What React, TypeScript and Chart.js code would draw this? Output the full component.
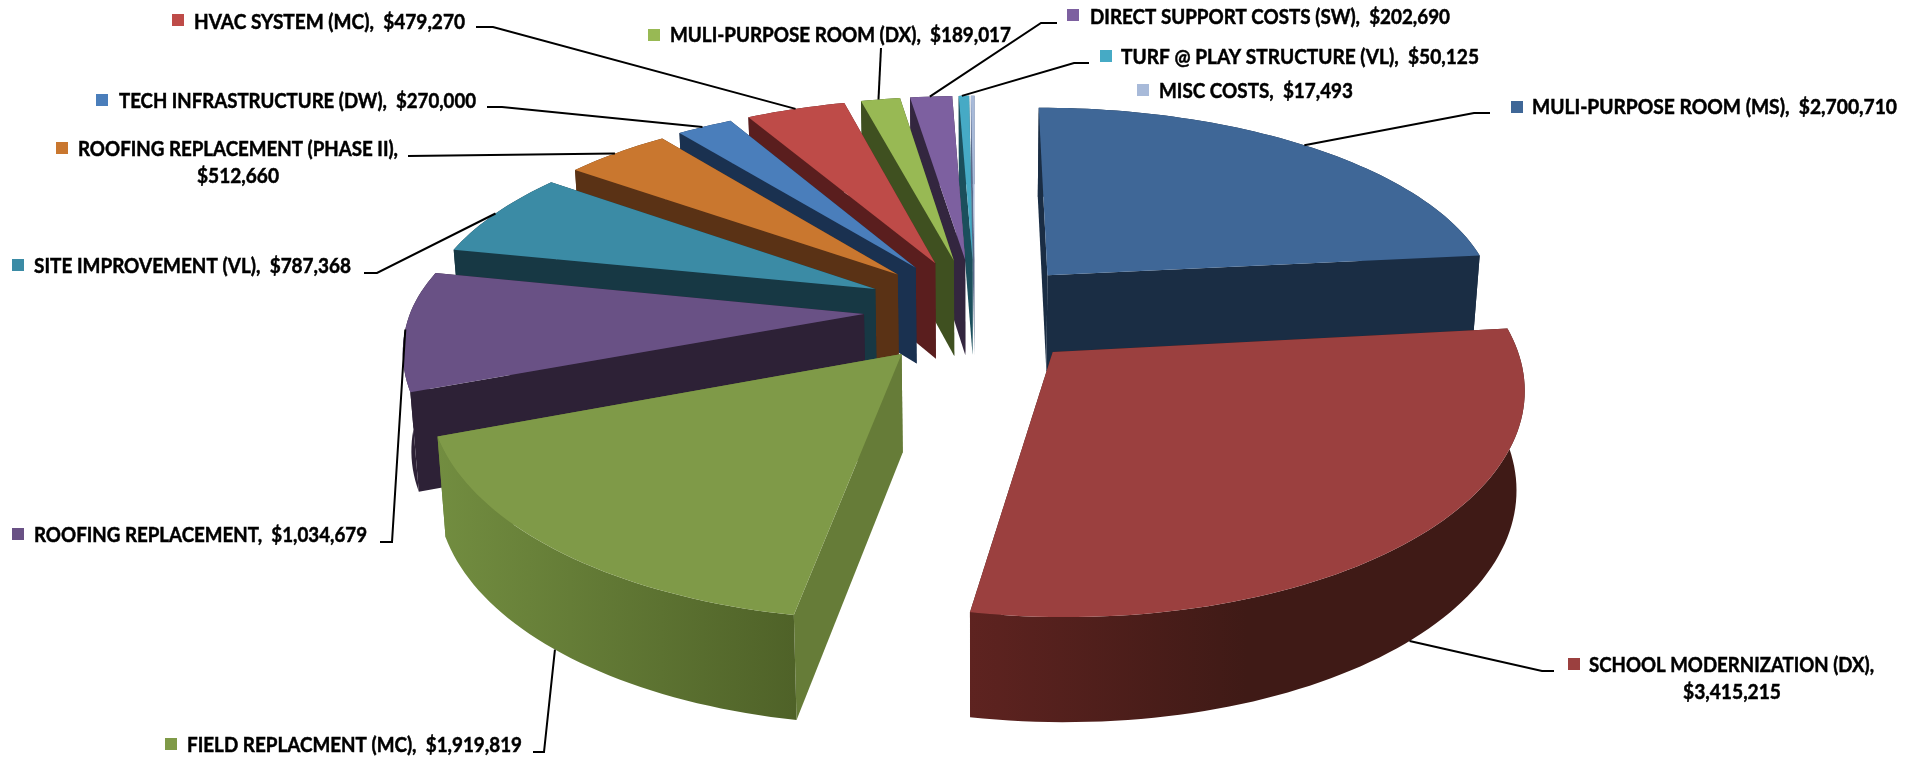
import React, { useEffect, useRef } from "react";
import { Chart, registerables, ArcElement, DoughnutController } from "chart.js";

// ---------- data ----------
const CATEGORIES = [
  "MULI-PURPOSE ROOM (MS)",
  "SCHOOL MODERNIZATION (DX)",
  "FIELD REPLACMENT (MC)",
  "ROOFING REPLACEMENT",
  "SITE IMPROVEMENT (VL)",
  "ROOFING REPLACEMENT (PHASE II)",
  "TECH INFRASTRUCTURE (DW)",
  "HVAC SYSTEM (MC)",
  "MULI-PURPOSE ROOM (DX)",
  "DIRECT SUPPORT COSTS (SW)",
  "TURF @ PLAY STRUCTURE (VL)",
  "MISC COSTS",
];
const VALUES = [2700710, 3415215, 1919819, 1034679, 787368, 512660, 270000, 479270, 189017, 202690, 50125, 17493];

// ---------- styles ----------
const TOP_COLORS = ["#3f6797", "#9b403f", "#7f9a48", "#695185", "#3b8ba5", "#c9772f", "#4a7ebb", "#be4b48", "#98b954", "#7d60a0", "#46aac5", "#a8bad9"];
const FACE_COLORS = ["#1a2d44", "#421a17", "#667c38", "#2d2136", "#173844", "#5a3215", "#1a3150", "#5a1e1e", "#3f5020", "#33263f", "#1b4f5c", "#5a6a8a"];
const WALL_LEFT = ["#1a2d44", "#5e2320", "#728d40", "#2d2136", "#173844", "#5a3215", "#1a3150", "#5a1e1e", "#3f5020", "#33263f", "#1b4f5c", "#5a6a8a"];
const WALL_RIGHT = ["#1a2d44", "#3f1a16", "#4f6228", "#2d2136", "#173844", "#5a3215", "#1a3150", "#5a1e1e", "#3f5020", "#33263f", "#1b4f5c", "#5a6a8a"];
const WALL_STOP = [1, 0.5, 1, 1, 1, 1, 1, 1, 1, 1, 1, 1];
const PAINT_ORDER = [11, 10, 9, 8, 7, 6, 5, 4, 3, 2, 0, 1];

// ---------- 3D view ----------
const CX = 975, CY = 310, RX = 453, RY_BACK = 200, RY_FRONT = 215, PERSP = 0.14, DEPTH = 97, DEPTH_GROW = 0.07, CONVERGE = 0.015;
const EXPLODE_U = 0.245;
const EXPLODE_V = [0.24, 0.26, 0.26, 0.26, 0.26, 0.26, 0.26, 0.26, 0.26, 0.26, 0.26, 0.26];

function project(u: number, v: number, z: number) {
  const s = 1 / (1 + PERSP * v);
  const ry = v < 0 ? RY_FRONT : RY_BACK;
  return { x: CX + RX * u * s * (1 - CONVERGE * z), y: CY - ry * v * s + DEPTH * (1 - DEPTH_GROW * v) * z };
}

class Slice3D extends ArcElement {
  static id = "slice3d";
  sliceIndex = 0;
  theta(t: number) {
    const { startAngle, endAngle } = this as any;
    return startAngle + (endAngle - startAngle) * t + Math.PI / 2;
  }
  apexUV() {
    const m = this.theta(0.5);
    return [EXPLODE_U * Math.sin(m), EXPLODE_V[this.sliceIndex] * Math.cos(m)];
  }
  outer(t: number, z: number) {
    const [ou, ov] = this.apexUV();
    const a = this.theta(t);
    return project(ou + Math.sin(a), ov + Math.cos(a), z);
  }
  apex(z: number) {
    const [ou, ov] = this.apexUV();
    return project(ou, ov, z);
  }
  draw(ctx: CanvasRenderingContext2D) {
    const i = this.sliceIndex;
    const span = (this as any).endAngle - (this as any).startAngle;
    const steps = Math.max(4, Math.ceil(span * 40));
    const poly = (pts: { x: number; y: number }[], fill: any) => {
      ctx.beginPath();
      pts.forEach((p, k) => (k ? ctx.lineTo(p.x, p.y) : ctx.moveTo(p.x, p.y)));
      ctx.closePath();
      ctx.fillStyle = fill;
      ctx.fill();
    };
    ctx.save();
    // radial faces
    poly([this.apex(0), this.outer(1, 0), this.outer(1, 1), this.apex(1)], FACE_COLORS[i]);
    poly([this.apex(0), this.outer(0, 0), this.outer(0, 1), this.apex(1)], FACE_COLORS[i]);
    // outer wall
    const top: { x: number; y: number }[] = [];
    const bottom: { x: number; y: number }[] = [];
    for (let k = 0; k <= steps; k++) {
      top.push(this.outer(k / steps, 0));
      bottom.push(this.outer(k / steps, 1));
    }
    const xs = top.map((p) => p.x);
    const grad = ctx.createLinearGradient(Math.min(...xs), 0, Math.max(...xs), 0);
    grad.addColorStop(0, WALL_LEFT[i]);
    grad.addColorStop(WALL_STOP[i], WALL_RIGHT[i]);
    poly([...top, ...bottom.reverse()], grad);
    // top surface
    poly([this.apex(0), ...top], (this as any).options.backgroundColor);
    ctx.restore();
  }
}

class Pie3DController extends DoughnutController {
  static id = "pie3d";
  static defaults = { ...(DoughnutController as any).defaults, dataElementType: "slice3d" };
  draw() {
    const ctx = (this as any).chart.ctx;
    const els = (this as any)._cachedMeta.data;
    for (const i of PAINT_ORDER) {
      els[i].sliceIndex = i;
      els[i].draw(ctx);
    }
  }
}

Chart.register(...registerables, Slice3D as any, Pie3DController as any);

// ---------- label layout (index matches CATEGORIES) ----------
type Lay = {
  swatch: number[]; // x, y centre
  lines: { x: number; y: number; w: number }[];
  wrap?: boolean;
  leader?: number[][]; // label-side points
  t?: number;
  z?: number;
};
const LABELS: Lay[] = [
  { swatch: [1517, 107], lines: [{ x: 1532, y: 107, w: 365 }], leader: [[1490, 113], [1474, 113]], t: 0.49 },
  { swatch: [1574, 664], lines: [{ x: 1589, y: 665, w: 285 }, { x: 1683, y: 692, w: 98 }], wrap: true, leader: [[1554, 671], [1542, 671]], t: 0.5, z: 1 },
  { swatch: [171, 744], lines: [{ x: 187, y: 745, w: 335 }], leader: [[533, 752], [544, 752]], t: 0.52, z: 1 },
  { swatch: [18, 534], lines: [{ x: 34, y: 535, w: 333 }], leader: [[380, 542], [392, 542]], t: 0.5 },
  { swatch: [18, 265], lines: [{ x: 34, y: 266, w: 317 }], leader: [[364, 273], [377, 273]], t: 0.5 },
  { swatch: [62, 148], lines: [{ x: 78, y: 149, w: 320 }, { x: 197, y: 176, w: 82 }], wrap: true, leader: [[408, 156]], t: 0.48 },
  { swatch: [102, 100], lines: [{ x: 119, y: 101, w: 357 }], leader: [[487, 107], [502, 107]], t: 0.46 },
  { swatch: [178, 20], lines: [{ x: 194, y: 22, w: 271 }], leader: [[476, 27], [493, 27]], t: 0.5 },
  { swatch: [654, 35], lines: [{ x: 670, y: 35, w: 341 }], leader: [[881, 48]], t: 0.45 },
  { swatch: [1073, 15], lines: [{ x: 1090, y: 17, w: 360 }], leader: [[1057, 23], [1041, 23]], t: 0.47 },
  { swatch: [1106, 56], lines: [{ x: 1121, y: 57, w: 358 }], leader: [[1089, 63], [1074, 63]], t: 0.3 },
  { swatch: [1143, 90], lines: [{ x: 1159, y: 91, w: 194 }] },
];

const labelPlugin = {
  id: "sliceLabels",
  afterDatasetsDraw(chart: any) {
    const ctx: CanvasRenderingContext2D = chart.ctx;
    const els = chart.getDatasetMeta(0).data;
    ctx.save();
    ctx.textBaseline = "middle";
    ctx.textAlign = "left";
    ctx.font = "700 21px Lato";
    LABELS.forEach((lay, i) => {
      const money = "$" + VALUES[i].toLocaleString("en-US");
      const texts = lay.wrap ? [CATEGORIES[i] + ",", money] : [CATEGORIES[i] + ",  " + money];
      ctx.fillStyle = TOP_COLORS[i];
      ctx.fillRect(lay.swatch[0] - 6, lay.swatch[1] - 6, 12, 12);
      ctx.fillStyle = "#000";
      ctx.strokeStyle = "#000";
      ctx.lineWidth = 0.5;
      texts.forEach((txt, k) => {
        ctx.fillText(txt, lay.lines[k].x, lay.lines[k].y, lay.lines[k].w);
        ctx.strokeText(txt, lay.lines[k].x, lay.lines[k].y, lay.lines[k].w);
      });
      if (lay.leader) {
        const end = els[i].outer(lay.t ?? 0.5, lay.z ?? 0);
        ctx.beginPath();
        lay.leader.forEach((p, k) => (k ? ctx.lineTo(p[0], p[1]) : ctx.moveTo(p[0], p[1])));
        ctx.lineTo(end.x, end.y);
        ctx.lineWidth = 2;
        ctx.stroke();
      }
    });
    ctx.restore();
  },
};

export default function App() {
  const ref = useRef<HTMLCanvasElement>(null);
  useEffect(() => {
    if (!ref.current) return;
    const chart = new Chart(ref.current, {
      type: "pie3d" as any,
      data: {
        labels: CATEGORIES,
        datasets: [{ data: VALUES, backgroundColor: TOP_COLORS, borderWidth: 0 }],
      },
      options: {
        animation: false,
        responsive: false,
        devicePixelRatio: 1,
        events: [],
        plugins: { legend: { display: false }, tooltip: { enabled: false } },
      } as any,
      plugins: [labelPlugin],
    });
    return () => chart.destroy();
  }, []);
  return (
    <div style={{ position: "absolute", left: 0, top: 0, width: 1915, height: 759, background: "#fff" }}>
      <canvas ref={ref} width={1915} height={759} style={{ display: "block" }} />
    </div>
  );
}
